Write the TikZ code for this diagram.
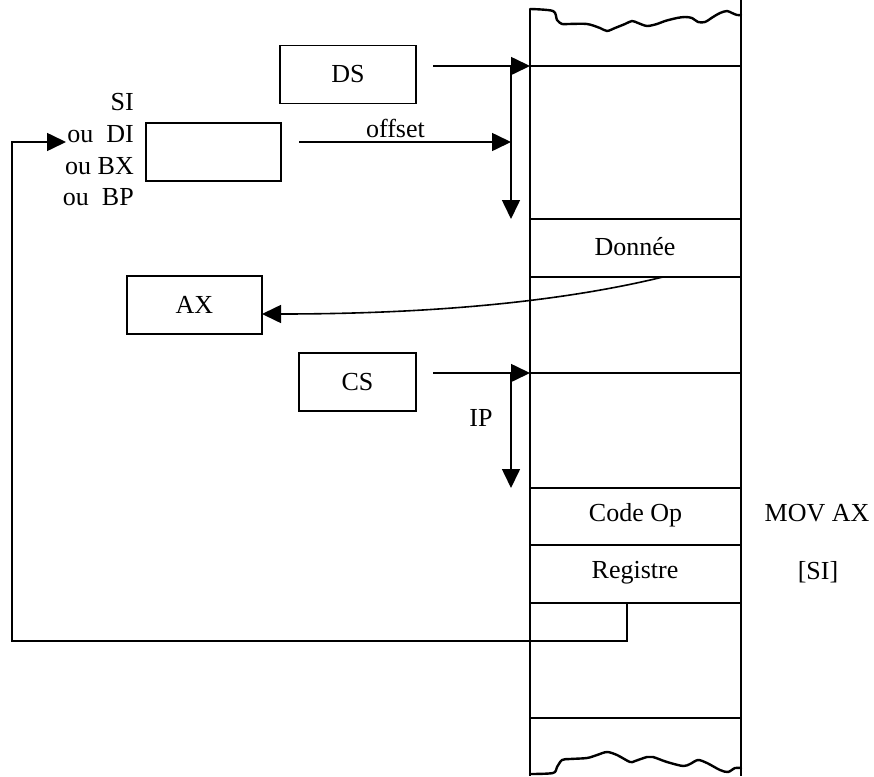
\documentclass[tikz,border=0pt]{standalone}
\usepackage{fontspec}
\setmainfont{Liberation Serif}
\usetikzlibrary{arrows.meta}
\tikzset{
  every node/.style={font=\fontsize{26}{31}\selectfont, inner sep=0pt},
  regbox/.style={draw, line width=1.7pt, minimum height=58pt},
  conn/.style={line width=1.6pt},
  arr/.style={line width=1.6pt, -{Triangle[length=19pt,width=18pt]}},
  wavy/.style={line width=2.4pt, line join=round, line cap=round},
  memline/.style={line width=1.7pt}
}
\begin{document}
\begin{tikzpicture}[x=1pt,y=-1pt]
\useasboundingbox (0,0) rectangle (874,776);

% memory column
\draw[memline] (530,9) -- (530,776);
\draw[memline] (741,0) -- (741,776);
\foreach \yy in {66,219,277,373,488,545,603,718}
  \draw[memline] (530,\yy) -- (741,\yy);
\draw[wavy] plot[smooth] coordinates {(530,9) (553,11) (557,20) (562,24) (568,24) (587,24) (600,28) (607,31) (615,28) (625,24) (632,21) (638,23) (647,26) (657,24) (665,21) (677,18) (685,17) (692,18) (698,22) (705,22) (713,17) (720,13) (727,11) (732,13) (737,15) (741,15)};
\draw[wavy] plot[smooth] coordinates {(530,774) (553,773) (557,767) (562,760) (570,759) (587,758) (597,755) (607,752) (617,755) (630,762) (635,761) (647,757) (653,757) (667,762) (683,766) (690,764) (698,760) (707,763) (720,770) (728,772) (735,768) (741,768)};

% cell texts
\node (donnee) at (635,247) {Donnée};
\node (codeop) at (635.5,515) {Code Op};
\node (registre) at (635,573) {Registre};
\node (mov) at (817,513) {MOV AX};
\node (si2) at (818,572) {[SI]};

% boxes
\node[regbox, minimum width=136pt] (ds) at (348,74.5) {DS};
\node[regbox, minimum width=135pt] (reg) at (213.5,152) {};
\node[regbox, minimum width=135pt] (ax) at (194.5,305) {AX};
\node[regbox, minimum width=117pt] (cs) at (357.5,382) {CS};

% register labels
\node[anchor=east] (lsi) at (134,102) {SI};
\node[anchor=east] (ldi) at (134,134) {ou\ \ DI};
\node[anchor=east] (lbx) at (134,166) {ou BX};
\node[anchor=east] (lbp) at (134,197) {ou\ \ BP};

% DS segment arrows
\coordinate (dsS) at (433,66);
\coordinate (dsT) at (530,66);
\coordinate (dsV) at (511,66);
\coordinate (dsE) at (511,219);
\draw[arr] (dsS) -- (dsT);
\draw[arr] (dsV) -- (dsE);
\coordinate (offS) at (299,142);
\coordinate (offT) at (511,142);
\draw[arr] (offS) -- (offT);
\node[anchor=base] (offlab) at (395.5,137) {offset};

% CS segment arrows
\coordinate (csS) at (433,373);
\coordinate (csT) at (530,373);
\coordinate (csV) at (511,373);
\coordinate (csE) at (511,488);
\draw[arr] (csS) -- (csT);
\draw[arr] (csV) -- (csE);
\node (ip) at (481,418) {IP};

% data to AX
\coordinate (dataP) at (663,277);
\coordinate (axT) at (262,314);
\draw[arr] (dataP) .. controls (560,302) and (430,314) .. (axT);

% feedback from instruction to register
\coordinate (fbA) at (627,603);
\coordinate (fbB) at (627,641);
\coordinate (fbC) at (12,641);
\coordinate (fbD) at (12,142);
\coordinate (fbE) at (66,142);
\draw[arr] (fbA) -- (fbB) -- (fbC) -- (fbD) -- (fbE);
\end{tikzpicture}
\end{document}
